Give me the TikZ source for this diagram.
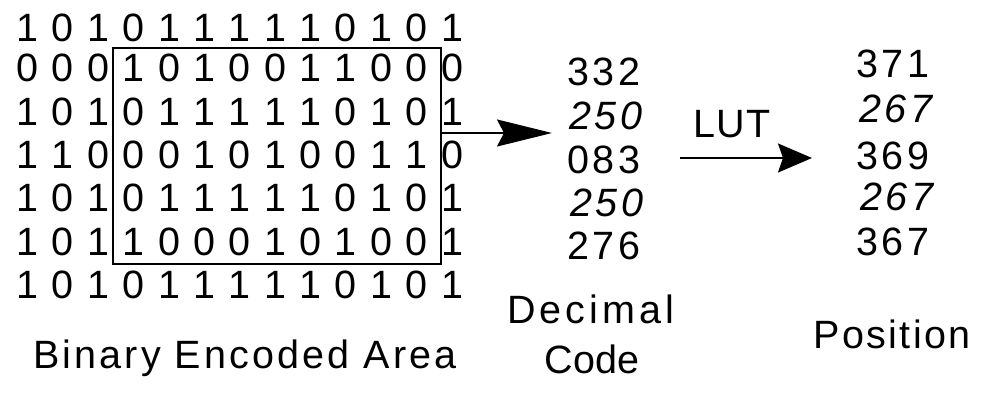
\documentclass[tikz,border=0pt]{standalone}
\usepackage{fontspec}
\setmainfont{Liberation Sans}
\usetikzlibrary{arrows.meta}
\begin{document}
\begin{tikzpicture}[x=1pt,y=-1pt,
  bit/.style={inner sep=0pt, font=\fontsize{39.5pt}{47pt}\selectfont},
  num/.style={inner sep=0pt, font=\fontsize{39.5pt}{47pt}\selectfont\addfontfeature{LetterSpace=8}},
  inum/.style={num, font=\fontsize{39.5pt}{47pt}\selectfont\itshape\addfontfeature{LetterSpace=8}},
  lbl/.style={inner sep=0pt, anchor=base},
  areabox/.style={draw, line width=2pt, inner sep=0pt},
  arrA/.style={line width=2pt, -{Stealth[length=55pt, width=27pt, inset=7pt]}},
  arrB/.style={line width=2pt, -{Stealth[length=34pt, width=29pt, inset=5pt]}}
]
\fill[white] (0,0) rectangle (988,398);
\useasboundingbox (0,0) rectangle (988,398);

% selection box
\node[areabox, minimum width=328pt, minimum height=216pt] (box) at (277,156) {};

% binary grid
\foreach \d [count=\c] in {1,0,1,0,1,1,1,1,1,0,1,0,1}
  \node[bit] (b1-\c) at ({27.5+35.375*(\c-1)},27.5) {\d};
\foreach \d [count=\c] in {0,0,0,1,0,1,0,0,1,1,0,0,0}
  \node[bit] (b2-\c) at ({27.5+35.375*(\c-1)},67.5) {\d};
\foreach \d [count=\c] in {1,0,1,0,1,1,1,1,1,0,1,0,1}
  \node[bit] (b3-\c) at ({27.5+35.375*(\c-1)},112) {\d};
\foreach \d [count=\c] in {1,1,0,0,0,1,0,1,0,0,1,1,0}
  \node[bit] (b4-\c) at ({27.5+35.375*(\c-1)},155) {\d};
\foreach \d [count=\c] in {1,0,1,0,1,1,1,1,1,0,1,0,1}
  \node[bit] (b5-\c) at ({27.5+35.375*(\c-1)},198) {\d};
\foreach \d [count=\c] in {1,0,1,1,0,0,0,1,0,1,0,0,1}
  \node[bit] (b6-\c) at ({27.5+35.375*(\c-1)},242) {\d};
\foreach \d [count=\c] in {1,0,1,0,1,1,1,1,1,0,1,0,1}
  \node[bit] (b7-\c) at ({27.5+35.375*(\c-1)},285) {\d};

% decimal codes
\node[num]  (d1) at (604,72)  {332};
\node[inum] (d2) at (606,116) {250};
\node[num]  (d3) at (604,160) {083};
\node[inum] (d4) at (607,203) {250};
\node[num]  (d5) at (604,246) {276};

% positions
\node[num]  (p1) at (893,64)  {371};
\node[inum] (p2) at (896,109) {267};
\node[num]  (p3) at (893,156) {369};
\node[inum] (p4) at (897,197) {267};
\node[num]  (p5) at (893,242) {367};

% labels
\node[lbl, font=\fontsize{39.5pt}{47pt}\selectfont\addfontfeature{LetterSpace=8}] (lba) at (245,368) {Binary Encoded Area};
\node[lbl, font=\fontsize{39.5pt}{47pt}\selectfont\addfontfeature{LetterSpace=10.5}] (lbd) at (591,323) {Decimal};
\node[lbl, font=\fontsize{39.5pt}{47pt}\selectfont] (lbc) at (592,373) {Code};
\node[lbl, font=\fontsize{39.5pt}{47pt}\selectfont\addfontfeature{LetterSpace=6}] (lbp) at (892,348) {Position};
\node[lbl, font=\fontsize{39.5pt}{47pt}\selectfont\addfontfeature{LetterSpace=3}] (lut) at (732,138) {LUT};

% arrows
\coordinate (a1e) at (552,133);
\draw[arrA] ([yshift=23pt]box.east) -- (a1e);
\coordinate (a2s) at (680,158);
\coordinate (a2e) at (812,158);
\draw[arrB] (a2s) -- (a2e);
\end{tikzpicture}
\end{document}
